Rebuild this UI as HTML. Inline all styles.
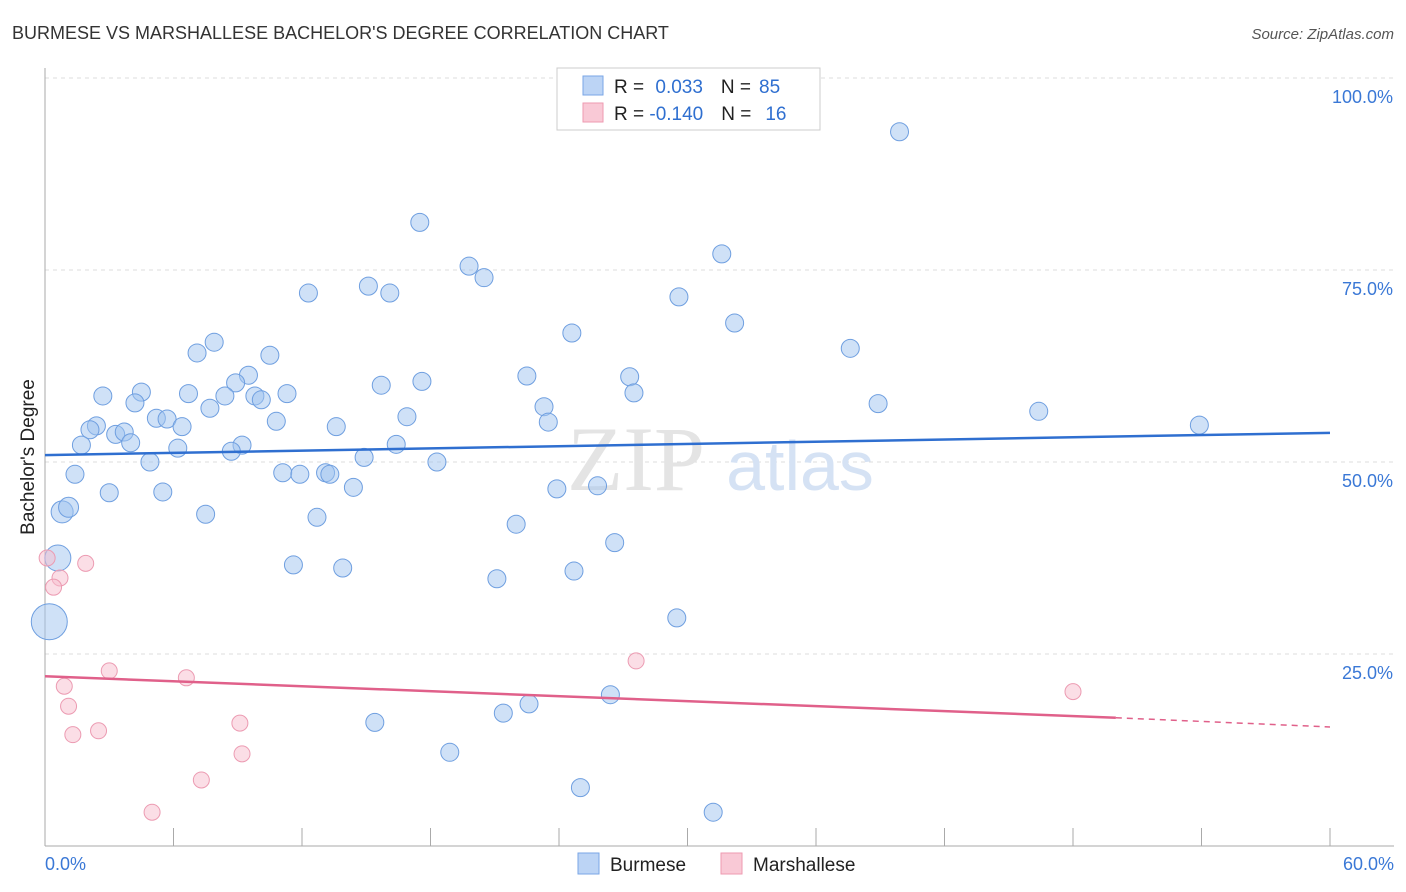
<!DOCTYPE html>
<html><head><meta charset="utf-8"><style>
body{margin:0;background:#fff;font-family:"Liberation Sans",sans-serif}
#wrap{position:relative;width:1406px;height:892px;overflow:hidden}
</style></head><body><div id="wrap">
<svg id="svg" width="1406" height="892" xmlns="http://www.w3.org/2000/svg">
<text x="12" y="39" font-size="18" fill="#333">BURMESE VS MARSHALLESE BACHELOR'S DEGREE CORRELATION CHART</text>
<text x="1394" y="39" font-size="15" fill="#555" text-anchor="end" font-style="italic">Source: ZipAtlas.com</text>
<text x="0" y="0" font-size="19" fill="#222" transform="translate(34,457) rotate(-90)" text-anchor="middle">Bachelor's Degree</text>
<g id="grid"></g>
<text x="636" y="490" font-size="92" fill="#e4e4e4" font-family="Liberation Serif,serif" text-anchor="middle">ZIP</text>
<text x="800" y="490" font-size="70" fill="#d5e2f4" text-anchor="middle">atlas</text>
<g id="pts"></g>
<g id="trend"></g>
<g>
<rect x="557" y="68" width="263" height="62" fill="#fff" stroke="#ccc"/>
<rect x="583" y="76" width="20" height="19" fill="#bcd4f5" stroke="#7aa6e6"/>
<rect x="583" y="103" width="20" height="19" fill="#f9c9d6" stroke="#ee9ab0"/>
<text x="614" y="93" font-size="19" fill="#222">R = <tspan fill="#2f6fd0" dx="6">0.033</tspan><tspan dx="18" fill="#222">N =</tspan><tspan dx="8" fill="#2f6fd0">85</tspan></text>
<text x="614" y="120" font-size="19" fill="#222">R = <tspan fill="#2f6fd0">-0.140</tspan><tspan dx="18" fill="#222">N =</tspan><tspan dx="14" fill="#2f6fd0">16</tspan></text>
</g>
<g>
<rect x="578" y="853" width="21" height="21" fill="#bcd4f5" stroke="#7aa6e6"/>
<text x="610" y="871" font-size="19" fill="#222">Burmese</text>
<rect x="721" y="853" width="21" height="21" fill="#f9c9d6" stroke="#ee9ab0"/>
<text x="753" y="871" font-size="19" fill="#222">Marshallese</text>
</g>
<text x="45" y="870" font-size="18" fill="#3a78d6">0.0%</text>
<text x="1394" y="870" font-size="18" fill="#3a78d6" text-anchor="end">60.0%</text>
</svg>
<script>
const yTicks=[100,75,50,25];
const yTickLabels=["100.0%","75.0%","50.0%","25.0%"];
const burmeseX=[39.9,17.5,31.6,19.8,20.5,12.3,15.1,16.1,29.6,32.2,24.6,7.9,7.1,10.5,37.6,9.5,8.9,15.7,17.6,22.5,27.3,27.5,2.7,4.5,6.7,8.4,9.8,11.3,4.2,10.1,7.7,23.3,38.9,46.4,5.2,5.7,16.9,10.8,23.5,53.9,2.4,2.1,6.4,13.6,3.3,3.7,4.0,1.7,6.2,9.2,8.7,16.4,14.9,4.9,18.3,1.4,11.1,11.9,13.1,13.3,14.4,3.0,5.5,23.9,25.8,0.8,1.1,7.5,12.7,22.0,26.6,0.6,11.6,13.9,24.7,21.1,29.5,0.2,26.4,22.6,21.4,15.4,18.9,25.0,31.2];
const burmeseY=[93.0,81.2,77.1,75.5,74.0,72.0,72.9,72.0,71.5,68.1,66.8,65.6,64.2,63.9,64.8,61.3,60.3,60.0,60.5,61.2,61.1,59.0,58.6,59.1,58.9,58.6,58.6,58.9,57.7,58.1,57.0,57.2,57.6,56.6,55.7,55.6,55.9,55.3,55.2,54.8,54.7,54.2,54.6,54.6,53.6,53.9,52.5,52.2,51.8,52.2,51.4,52.3,50.6,50.0,50.0,48.4,48.6,48.4,48.6,48.4,46.7,46.0,46.1,46.5,46.9,43.5,44.1,43.2,42.8,41.9,39.5,37.5,36.6,36.2,35.8,34.8,29.7,29.2,19.7,18.5,17.3,16.1,12.2,7.6,4.4];
const burmeseSize=[9,9,9,9,9,9,9,9,9,9,9,9,9,9,9,9,9,9,9,9,9,9,9,9,9,9,9,9,9,9,9,9,9,9,9,9,9,9,9,9,9,9,9,9,9,9,9,9,9,9,9,9,9,9,9,9,9,9,9,9,9,9,9,9,9,11,10,9,9,9,9,13,9,9,9,9,9,18,9,9,9,9,9,9,9];
const marshX=[0.1,1.9,0.7,0.4,27.6,3.0,6.6,0.9,48.0,1.1,9.1,2.5,1.3,9.2,7.3,5.0];
const marshY=[37.5,36.8,34.9,33.7,24.1,22.8,21.9,20.8,20.1,18.2,16.0,15.0,14.5,12.0,8.6,4.4];
const burmeseTrend=[50.9,53.8];
const marshTrend=[22.1,16.7,15.5];
const NS="http://www.w3.org/2000/svg";
const X=v=>45+v/60*1285, Y=v=>846-v/100*768;
function mk(t,a,p){const e=document.createElementNS(NS,t);for(const k in a)e.setAttribute(k,a[k]);p.appendChild(e);return e;}
const grid=document.getElementById('grid');
yTicks.forEach((t,i)=>{
 const l=mk('line',{x1:45,x2:1394,y1:Y(t),y2:Y(t),stroke:'#ddd','stroke-dasharray':'4,4'},grid);
 
 
 const tx=mk('text',{x:1393,y:Y(t)+25,'font-size':18,fill:'#3a78d6','text-anchor':'end'},grid);
 tx.textContent=yTickLabels[i];
 
 
});
const ax=mk('line',{x1:45,x2:45,y1:68,y2:846,stroke:'#aaa'},grid);


const bx=mk('line',{x1:45,x2:1394,y1:846,y2:846,stroke:'#aaa'},grid);


for(let i=1;i<=10;i++){const t=mk('line',{x1:X(i*6),x2:X(i*6),y1:828,y2:846,stroke:'#aaa'},grid);
 
 }
const pts=document.getElementById('pts');
burmeseX.forEach((v,i)=>{const c=mk('circle',{cx:X(v),cy:Y(burmeseY[i]),r:burmeseSize[i],fill:'rgba(160,195,240,0.5)',stroke:'#6f9fe0','stroke-width':1},pts);
 
 });
marshX.forEach((v,i)=>{const c=mk('circle',{cx:X(v),cy:Y(marshY[i]),r:8,fill:'rgba(248,190,205,0.5)',stroke:'#ec9bb2','stroke-width':1},pts);
 
 });
const tr=document.getElementById('trend');
const b=mk('line',{x1:X(0),y1:Y(burmeseTrend[0]),x2:X(60),y2:Y(burmeseTrend[1]),stroke:'#2f6fd0','stroke-width':2.5},tr);


const m=mk('line',{x1:X(0),y1:Y(marshTrend[0]),x2:X(50),y2:Y(marshTrend[1]),stroke:'#e0608a','stroke-width':2.5},tr);


const md=mk('line',{x1:X(50),y1:Y(marshTrend[1]),x2:X(60),y2:Y(marshTrend[2]),stroke:'#e0608a','stroke-width':1.5,'stroke-dasharray':'6,5'},tr);


</script>
</div></body></html>
